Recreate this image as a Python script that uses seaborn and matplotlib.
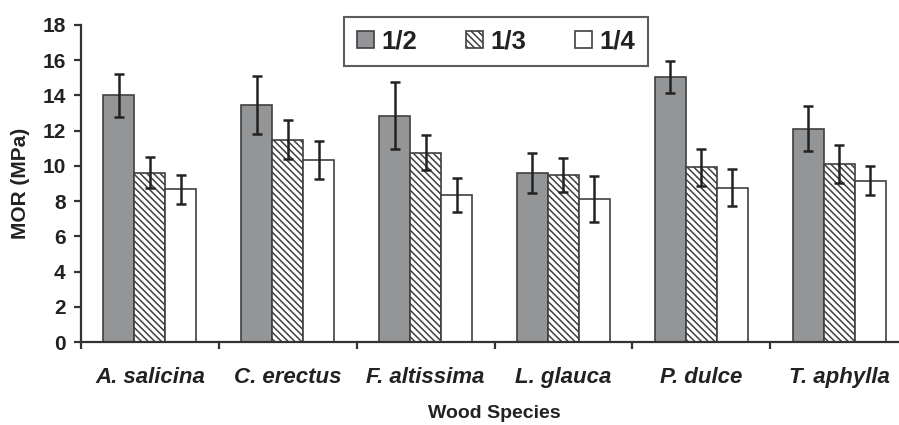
import pandas as pd
import matplotlib
matplotlib.use("Agg")
import matplotlib.pyplot as plt
import seaborn as sns
from matplotlib.patches import Patch

# --- DATA ---
species = ["A. salicina", "C. erectus", "F. altissima", "L. glauca", "P. dulce", "T. aphylla"]
ratios = ["1/2", "1/3", "1/4"]
mor_half = [14.0, 13.47, 12.84, 9.6, 15.04, 12.1]
err_half = [1.2, 1.65, 1.9, 1.12, 0.9, 1.28]
mor_third = [9.62, 11.48, 10.76, 9.49, 9.92, 10.11]
err_third = [0.87, 1.1, 0.97, 0.97, 1.05, 1.07]
mor_quarter = [8.67, 10.34, 8.35, 8.13, 8.77, 9.16]
err_quarter = [0.83, 1.1, 0.97, 1.3, 1.05, 0.83]

# --- STYLE ---
sns.set_theme(style="white")
plt.rcParams['font.family'] = ['Liberation Sans', 'DejaVu Sans']
plt.rcParams['font.weight'] = 'bold'
plt.rcParams['hatch.linewidth'] = 1.1
TEXT = '#222222'
EDGE = '#404040'
fills = ['#939598', 'white', 'white']
hatches = ['', '\\\\\\\\\\', '']

# long table for seaborn
values = [mor_half, mor_third, mor_quarter]
errors = [err_half, err_third, err_quarter]
rows = []
for r, vals, errs in zip(ratios, values, errors):
    for s, v, e in zip(species, vals, errs):
        rows.append({'species': s, 'ratio': r, 'mor': v, 'err': e})
df = pd.DataFrame(rows)

fig = plt.figure(figsize=(8.99, 4.25), dpi=100)
ax = fig.add_axes([81 / 899, 1 - 342 / 425, 827 / 899, 317 / 425])

sns.barplot(data=df, x='species', y='mor', hue='ratio', order=species, hue_order=ratios,
            palette=fills, errorbar=None, width=0.675, ax=ax,
            edgecolor=EDGE, linewidth=1.2, legend=False)

# hatch + error bars per hue level
for cont, hatch, errs in zip(ax.containers, hatches, errors):
    xs, ys = [], []
    for patch in cont.patches:
        patch.set_hatch(hatch)
        patch.set_edgecolor(EDGE)
        xs.append(patch.get_x() + patch.get_width() / 2)
        ys.append(patch.get_height())
    ax.errorbar(xs, ys, yerr=errs, fmt='none', ecolor=TEXT, elinewidth=1.8,
                capsize=3.8, capthick=1.8, zorder=5)

# axes
ax.set_xlim(-0.5, 5.5)
ax.set_ylim(0, 18)
ax.set_yticks(range(0, 19, 2))
sns.despine(ax=ax)
for side in ['left', 'bottom']:
    ax.spines[side].set_linewidth(1.6)
    ax.spines[side].set_color('#333333')
ax.tick_params(axis='y', direction='out', length=5, width=1.6, color='#333333',
               pad=6, labelsize=15, labelcolor=TEXT, left=True)
ax.tick_params(axis='x', which='major', length=0, pad=18, labelsize=16, labelcolor=TEXT)
ax.set_xticks([i - 0.5 for i in range(7)], minor=True)
ax.tick_params(axis='x', which='minor', direction='out', length=5, width=1.6,
               color='#333333', bottom=True)
for lab in ax.get_xticklabels():
    lab.set_fontstyle('italic')
    lab.set_fontweight('bold')
for lab in ax.get_yticklabels():
    lab.set_fontweight('bold')

ax.set_ylabel('MOR (MPa)', fontsize=15, fontweight='bold', color=TEXT)
ax.yaxis.set_label_coords(-0.062, 0.5)
ax.set_xlabel('Wood Species', fontsize=14, fontweight='bold', color=TEXT)
ax.xaxis.set_label_coords(0.5, -0.2)

# legend
handles = [Patch(facecolor=f, edgecolor=EDGE, hatch=h, linewidth=1.2)
           for f, h in zip(fills, hatches)]
leg = fig.legend(handles, ratios, loc='center', bbox_to_anchor=(496 / 899, 1 - 41.5 / 425),
                 ncol=3, frameon=True, fancybox=False, prop={'size': 18.5, 'weight': 'bold'},
                 handlelength=0.65, handleheight=0.65, handletextpad=0.3,
                 columnspacing=1.9, borderpad=0.5)
leg.get_frame().set_edgecolor('#333333')
leg.get_frame().set_linewidth(1.5)
for t in leg.get_texts():
    t.set_color(TEXT)

fig.savefig('out.png', dpi=100)
